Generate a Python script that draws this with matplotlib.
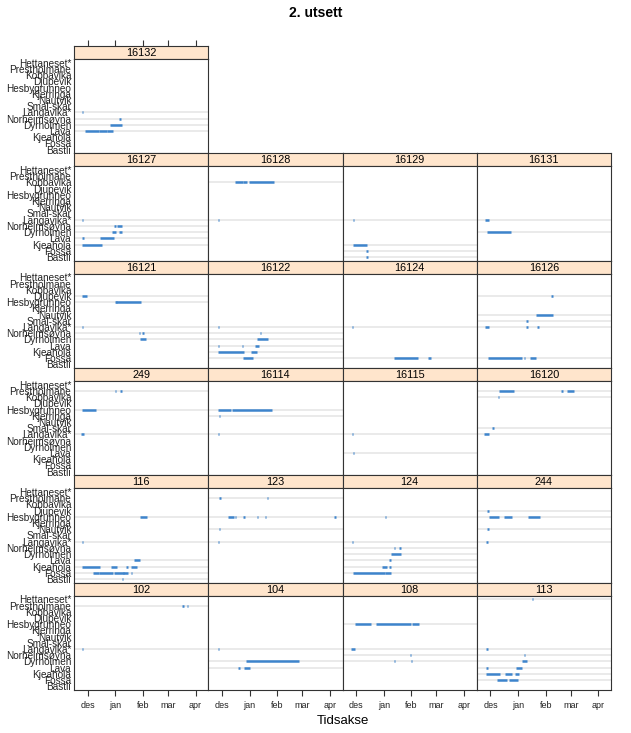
import numpy as np
import matplotlib
matplotlib.use("Agg")
import matplotlib.pyplot as plt

plt.rcParams['font.family'] = ['Liberation Sans', 'DejaVu Sans']

sites = ['Hettaneset*', 'Prestholmane', 'Kobbavika', 'Djupevik', 'Hesbygrunneo',
         'Kjerringa', 'Nautvik', 'Smal-skar', 'Langavika*', 'Norheimsøyna',
         'Dyrholmen', 'Lava', 'Kjeahola', 'Fossa', 'Bastli']

# month ticks, days after 1 Dec
month_days = [0, 31, 62, 90, 121]
month_labels = ['des', 'jan', 'feb', 'mar', 'apr']

# (site, start day, end day), days after 1 Dec
p16132 = [('Langavika*', -6, -6), ('Norheimsøyna', 36, 36), ('Dyrholmen', 26, 37),
          ('Lava', -2, 12), ('Lava', 14, 21), ('Lava', 22, 27)]
p16127 = [('Langavika*', -6, -6), ('Norheimsøyna', 30, 31), ('Norheimsøyna', 34, 38),
          ('Dyrholmen', 28, 31), ('Dyrholmen', 36, 38), ('Lava', -5, -5),
          ('Lava', 15, 29), ('Kjeahola', -6, 15)]
p16128 = [('Kobbavika', 15, 23), ('Kobbavika', 24, 27), ('Kobbavika', 31, 57),
          ('Langavika*', -4, -4)]
p16129 = [('Langavika*', -3, -3), ('Kjeahola', -3, 11), ('Fossa', 12, 12),
          ('Bastli', 12, 12)]
p16131 = [('Langavika*', -5, -3), ('Dyrholmen', -3, 22)]
p16121 = [('Djupevik', -5, -2), ('Hesbygrunneo', 32, 32), ('Hesbygrunneo', 33, 59),
          ('Langavika*', -6, -6), ('Norheimsøyna', 58, 58), ('Norheimsøyna', 62, 62),
          ('Dyrholmen', 59, 65)]
p16122 = [('Langavika*', -4, -4), ('Norheimsøyna', 43, 43), ('Dyrholmen', 40, 51),
          ('Lava', -4, -4), ('Lava', 23, 23), ('Lava', 38, 41),
          ('Kjeahola', -4, 24), ('Kjeahola', 33, 38), ('Fossa', 24, 34)]
p16124 = [('Langavika*', -4, -4), ('Fossa', 43, 68), ('Fossa', 81, 83)]
p16126 = [('Djupevik', 69, 69), ('Nautvik', 52, 69), ('Smal-skar', 41, 41),
          ('Langavika*', -5, -2), ('Langavika*', 41, 41), ('Langavika*', 53, 53),
          ('Fossa', -2, 35), ('Fossa', 38, 38), ('Fossa', 45, 50)]
p249 = [('Prestholmane', 31, 31), ('Prestholmane', 37, 37),
        ('Hesbygrunneo', -5, 8), ('Langavika*', -7, -5)]
p16114 = [('Hesbygrunneo', -4, 9), ('Hesbygrunneo', 12, 55), ('Kjerringa', -3, -3),
          ('Langavika*', -4, -4)]
p16115 = [('Langavika*', -4, -4), ('Lava', -3, -3)]
p16120 = [('Prestholmane', 10, 25), ('Prestholmane', 80, 80), ('Prestholmane', 87, 93),
          ('Kobbavika', 9, 9), ('Smal-skar', 3, 3), ('Langavika*', -6, -3)]
p116 = [('Hesbygrunneo', 60, 66), ('Langavika*', -6, -6), ('Lava', 53, 58),
        ('Kjeahola', -5, 13), ('Kjeahola', 27, 32), ('Kjeahola', 44, 44),
        ('Kjeahola', 50, 54), ('Fossa', 7, 12), ('Fossa', 13, 28), ('Fossa', 30, 40),
        ('Fossa', 41, 44), ('Fossa', 49, 49), ('Bastli', 39, 39)]
p123 = [('Prestholmane', -2, -2), ('Prestholmane', 51, 51), ('Hesbygrunneo', 8, 13),
        ('Hesbygrunneo', 15, 15), ('Hesbygrunneo', 25, 25), ('Hesbygrunneo', 40, 40),
        ('Hesbygrunneo', 49, 49), ('Hesbygrunneo', 127, 127), ('Nautvik', -3, -3),
        ('Langavika*', -4, -4)]
p124 = [('Hesbygrunneo', 33, 33), ('Langavika*', -4, -4), ('Norheimsøyna', 43, 43),
        ('Norheimsøyna', 49, 49), ('Dyrholmen', 40, 49), ('Lava', 38, 38),
        ('Kjeahola', 30, 34), ('Kjeahola', 38, 38), ('Fossa', -3, 31), ('Fossa', 33, 38)]
p244 = [('Djupevik', -3, -3), ('Hesbygrunneo', -1, 9), ('Hesbygrunneo', 16, 23),
        ('Hesbygrunneo', 43, 55), ('Nautvik', -3, -3), ('Langavika*', -4, -4)]
p102 = [('Prestholmane', 107, 107), ('Prestholmane', 112, 112), ('Langavika*', -6, -6)]
p104 = [('Langavika*', -4, -4), ('Dyrholmen', 28, 86), ('Lava', 19, 19), ('Lava', 26, 30)]
p108 = [('Hesbygrunneo', -1, 16), ('Hesbygrunneo', 23, 61), ('Hesbygrunneo', 63, 69),
        ('Langavika*', -5, -2), ('Norheimsøyna', 61, 61), ('Dyrholmen', 43, 43),
        ('Dyrholmen', 62, 62)]
p113 = [('Hettaneset*', 47, 47), ('Langavika*', -4, -4), ('Norheimsøyna', 38, 38),
        ('Dyrholmen', 36, 40), ('Lava', -4, -4), ('Lava', 30, 35),
        ('Kjeahola', -4, 10), ('Kjeahola', 17, 23), ('Kjeahola', 28, 31),
        ('Fossa', 8, 18), ('Fossa', 22, 30)]

layout = [[('16132', p16132), None, None, None],
          [('16127', p16127), ('16128', p16128), ('16129', p16129), ('16131', p16131)],
          [('16121', p16121), ('16122', p16122), ('16124', p16124), ('16126', p16126)],
          [('249', p249), ('16114', p16114), ('16115', p16115), ('16120', p16120)],
          [('116', p116), ('123', p123), ('124', p124), ('244', p244)],
          [('102', p102), ('104', p104), ('108', p108), ('113', p113)]]

W, H = 631, 733
fig = plt.figure(figsize=(W / 100, H / 100), dpi=100)

left0, colw = 74, 134.25
top0, block, striph = 46, 107.33, 13
xlim = (-15.4, 135.2)
seg_col = '#3d84cc'
edge = '#333333'

for r, row in enumerate(layout):
    for c, cell in enumerate(row):
        if cell is None:
            continue
        name, recs = cell
        x0 = left0 + c * colw
        stop = top0 + r * block
        ptop = stop + striph
        pbot = top0 + (r + 1) * block
        # strip
        sax = fig.add_axes([x0 / W, 1 - ptop / H, colw / W, striph / H])
        sax.set_facecolor('#ffe5cc')
        sax.set_xlim(xlim)
        sax.set_yticks([])
        sax.text(0.5, 0.45, name, transform=sax.transAxes, ha='center', va='center',
                 fontsize=7.8, color='black')
        for s in sax.spines.values():
            s.set_color(edge)
            s.set_linewidth(0.8)
        if r == 0:
            sax.xaxis.tick_top()
            sax.set_xticks(month_days)
            sax.tick_params(axis='x', direction='out', length=4, width=0.8,
                            labeltop=False, color=edge)
        else:
            sax.set_xticks([])
        # panel
        ax = fig.add_axes([x0 / W, 1 - pbot / H, colw / W, (pbot - ptop) / H])
        ax.set_xlim(xlim)
        ax.set_ylim(len(sites) - 0.4, -0.6)
        used = sorted(set(sites.index(s) for s, a, b in recs))
        for yi in used:
            ax.axhline(yi, color='#e8e8e8', lw=1.3, zorder=1)
        for s, a, b in recs:
            yi = sites.index(s)
            ax.hlines(yi, a - 0.9, b + 0.9, color=seg_col, lw=1.8, zorder=2,
                      capstyle='butt')
        ax.set_yticks(range(len(sites)))
        if c == 0:
            ax.set_yticklabels(sites, fontsize=7.2, color='#222222')
            ax.tick_params(axis='y', length=0, pad=2)
        else:
            ax.set_yticklabels([])
            ax.tick_params(axis='y', length=0)
        ax.set_xticks(month_days)
        if r == len(layout) - 1:
            ax.set_xticklabels(month_labels, fontsize=6.5, color='#222222')
            ax.tick_params(axis='x', direction='out', length=4, width=0.8,
                           pad=4, color=edge)
        else:
            ax.tick_params(axis='x', length=0, labelbottom=False)
        for s in ax.spines.values():
            s.set_color(edge)
            s.set_linewidth(0.8)

fig.text(0.5, 1 - 13 / H, '2. utsett', ha='center', va='center',
         fontsize=10, fontweight='bold')
fig.text((left0 + 2 * colw) / W, 1 - 721 / H, 'Tidsakse', ha='center', va='center',
         fontsize=9.5)

fig.savefig('out.png', dpi=100)
